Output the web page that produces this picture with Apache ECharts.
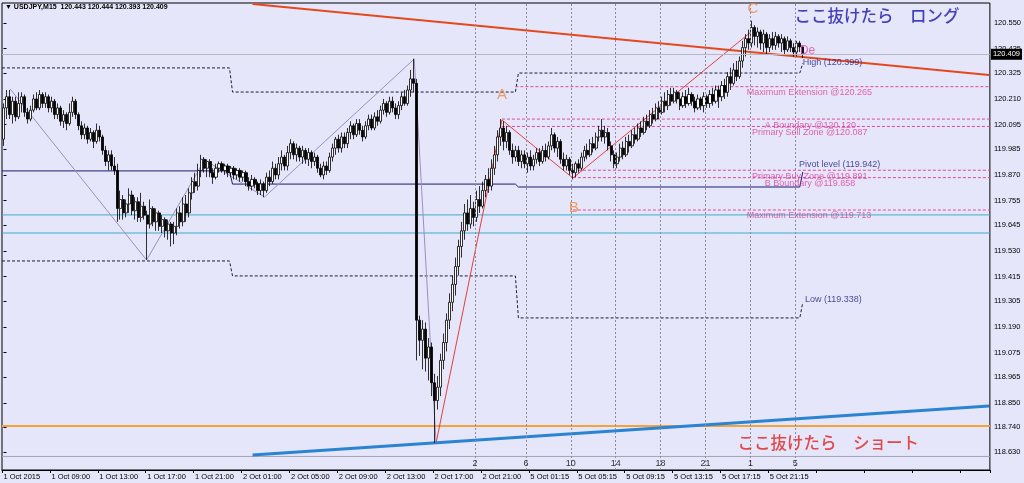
<!DOCTYPE html>
<html><head><meta charset="utf-8">
<script src="https://cdn.jsdelivr.net/npm/echarts@6/dist/echarts.min.js"></script>
<style>html,body{margin:0;padding:0;background:#E6E6FA;}#c{width:1024px;height:483px;}</style>
</head><body><div id="c"></div>
<script>
// ---- data ----
const xTickLabels = ['1 Oct 2015','1 Oct 09:00','1 Oct 13:00','1 Oct 17:00','1 Oct 21:00','2 Oct 01:00','2 Oct 05:00','2 Oct 09:00','2 Oct 13:00','2 Oct 17:00','2 Oct 21:00','5 Oct 01:15','5 Oct 05:15','5 Oct 09:15','5 Oct 13:15','5 Oct 17:15','5 Oct 21:15'];
const yTickValues = [120.550,120.435,120.325,120.210,120.095,119.985,119.870,119.755,119.645,119.530,119.415,119.305,119.190,119.075,118.965,118.850,118.740,118.630];
// [open, close, low, high]
const candles = [
[120.03,120.17,120.00,120.19],[120.17,120.22,120.12,120.25],[120.22,120.14,120.12,120.25],[120.14,120.20,120.10,120.22],[120.20,120.13,120.11,120.22],
[120.13,120.19,120.12,120.24],[120.19,120.22,120.15,120.24],[120.22,120.15,120.13,120.23],[120.15,120.12,120.10,120.17],[120.12,120.16,120.11,120.18],
[120.16,120.21,120.15,120.23],[120.21,120.17,120.16,120.24],[120.17,120.23,120.16,120.25],[120.23,120.19,120.17,120.24],[120.19,120.22,120.17,120.24],
[120.22,120.17,120.15,120.23],[120.17,120.20,120.15,120.22],[120.20,120.14,120.12,120.21],[120.14,120.17,120.12,120.19],[120.17,120.11,120.09,120.18],
[120.11,120.14,120.08,120.16],[120.14,120.10,120.07,120.15],[120.10,120.15,120.09,120.19],[120.15,120.20,120.13,120.22],[120.20,120.14,120.12,120.21],
[120.14,120.09,120.07,120.15],[120.09,120.05,120.03,120.11],[120.05,120.08,120.03,120.10],[120.08,120.03,120.01,120.09],[120.03,120.06,120.02,120.08],
[120.06,120.02,119.99,120.07],[120.02,120.07,120.01,120.10],[120.07,120.04,120.02,120.09],[120.04,119.98,119.96,120.05],[119.98,119.93,119.91,120.00],
[119.93,119.96,119.89,119.98],[119.96,119.91,119.89,119.98],[119.91,119.89,119.87,119.95],[119.89,119.72,119.66,119.92],[119.72,119.76,119.67,119.80],
[119.76,119.70,119.67,119.78],[119.70,119.74,119.68,119.76],[119.74,119.78,119.70,119.81],[119.78,119.71,119.69,119.80],[119.71,119.75,119.67,119.77],
[119.75,119.68,119.66,119.77],[119.68,119.73,119.66,119.79],[119.73,119.69,119.67,119.75],[119.69,119.65,119.49,119.71],[119.65,119.72,119.63,119.76],
[119.72,119.66,119.64,119.73],[119.66,119.70,119.62,119.72],[119.70,119.64,119.62,119.71],[119.64,119.67,119.61,119.69],[119.67,119.62,119.59,119.68],
[119.62,119.65,119.58,119.67],[119.65,119.61,119.55,119.66],[119.61,119.64,119.56,119.66],[119.64,119.70,119.60,119.72],[119.70,119.66,119.63,119.73],
[119.66,119.74,119.64,119.77],[119.74,119.70,119.66,119.78],[119.70,119.79,119.68,119.81],[119.79,119.84,119.76,119.86],[119.84,119.82,119.79,119.88],
[119.82,119.89,119.80,119.92],[119.89,119.94,119.86,119.96],[119.94,119.90,119.88,119.95],[119.90,119.93,119.86,119.94],[119.93,119.88,119.86,119.94],
[119.88,119.86,119.83,119.90],[119.86,119.90,119.85,119.92],[119.90,119.92,119.88,119.93],[119.92,119.89,119.88,119.93],[119.89,119.91,119.87,119.92],
[119.91,119.88,119.86,119.92],[119.88,119.90,119.86,119.91],[119.90,119.87,119.85,119.91],[119.87,119.89,119.85,119.90],[119.89,119.86,119.84,119.90],
[119.86,119.88,119.84,119.89],[119.88,119.84,119.82,119.89],[119.84,119.82,119.80,119.86],[119.82,119.85,119.80,119.87],[119.85,119.83,119.81,119.86],
[119.83,119.80,119.78,119.84],[119.80,119.83,119.78,119.85],[119.83,119.80,119.77,119.84],[119.80,119.86,119.79,119.88],[119.86,119.84,119.82,119.89],
[119.84,119.90,119.83,119.93],[119.90,119.87,119.85,119.92],[119.87,119.92,119.85,119.95],[119.92,119.95,119.89,119.98],[119.95,119.91,119.89,119.96],
[119.91,119.97,119.89,120.00],[119.97,120.01,119.94,120.03],[120.01,119.96,119.94,120.02],[119.96,119.99,119.93,120.01],[119.99,119.95,119.93,120.00],
[119.95,119.98,119.92,120.00],[119.98,119.94,119.92,119.99],[119.94,119.97,119.91,119.99],[119.97,119.93,119.90,119.98],[119.93,119.95,119.91,119.97],
[119.95,119.90,119.88,119.96],[119.90,119.87,119.86,119.92],[119.87,119.91,119.85,119.93],[119.91,119.89,119.87,119.93],[119.89,119.95,119.88,119.97],
[119.95,119.99,119.93,120.01],[119.99,120.03,119.96,120.04],[120.03,119.99,119.97,120.05],[119.99,120.04,119.97,120.06],[120.04,120.01,119.99,120.06],
[120.01,120.06,119.99,120.08],[120.06,120.09,120.03,120.11],[120.09,120.05,120.03,120.10],[120.05,120.10,120.04,120.12],[120.10,120.07,120.05,120.12],
[120.07,120.04,120.02,120.09],[120.04,120.09,120.03,120.11],[120.09,120.12,120.07,120.14],[120.12,120.08,120.07,120.14],[120.08,120.13,120.07,120.15],
[120.13,120.11,120.09,120.16],[120.11,120.16,120.10,120.18],[120.16,120.19,120.14,120.21],[120.19,120.15,120.13,120.20],[120.15,120.20,120.14,120.22],
[120.20,120.17,120.15,120.22],[120.17,120.14,120.12,120.19],[120.14,120.18,120.12,120.20],[120.18,120.22,120.16,120.24],[120.22,120.19,120.18,120.25],
[120.19,120.25,120.18,120.27],[120.25,120.30,120.22,120.34],[120.30,120.28,120.24,120.39],[120.28,119.22,119.04,120.30],[119.22,119.13,119.06,119.24],
[119.13,119.18,119.00,119.22],[119.18,119.05,118.99,119.21],[119.05,119.10,118.95,119.14],[119.10,118.94,118.88,119.12],[118.94,118.86,118.67,118.98],
[118.86,118.92,118.82,118.97],[118.92,119.04,118.88,119.07],[119.04,119.12,119.00,119.16],[119.12,119.22,119.08,119.25],[119.22,119.30,119.18,119.34],
[119.30,119.38,119.26,119.42],[119.38,119.46,119.33,119.50],[119.46,119.55,119.42,119.58],[119.55,119.62,119.50,119.66],[119.62,119.70,119.58,119.74],
[119.70,119.65,119.62,119.76],[119.65,119.72,119.63,119.78],[119.72,119.68,119.64,119.75],[119.68,119.76,119.66,119.80],[119.76,119.73,119.70,119.82],
[119.73,119.80,119.72,119.84],[119.80,119.85,119.77,119.87],[119.85,119.82,119.79,119.90],[119.82,119.90,119.80,119.94],[119.90,119.96,119.87,120.00],
[119.96,120.04,119.93,120.07],[120.04,120.08,120.00,120.12],[120.08,120.02,119.98,120.11],[120.02,120.06,119.99,120.09],[120.06,119.98,119.96,120.07],
[119.98,119.95,119.92,120.01],[119.95,119.98,119.93,120.00],[119.98,119.93,119.91,120.00],[119.93,119.96,119.90,119.98],[119.96,119.92,119.90,119.98],
[119.92,119.95,119.88,119.97],[119.95,119.91,119.89,119.98],[119.91,119.94,119.89,119.96],[119.94,119.97,119.92,119.99],[119.97,119.93,119.91,119.99],
[119.93,119.98,119.92,120.00],[119.98,119.95,119.93,120.01],[119.95,120.00,119.94,120.02],[120.00,120.05,119.98,120.08],[120.05,119.99,119.97,120.06],
[119.99,120.02,119.95,120.04],[120.02,119.94,119.92,120.03],[119.94,119.91,119.89,119.97],[119.91,119.94,119.89,119.96],[119.94,119.89,119.87,119.95],
[119.89,119.88,119.85,119.92],[119.88,119.92,119.86,119.93],[119.92,119.90,119.88,119.94],[119.90,119.95,119.89,119.97],[119.95,119.98,119.93,120.00],
[119.98,119.96,119.94,120.01],[119.96,120.01,119.95,120.03],[120.01,119.99,119.97,120.04],[119.99,120.04,119.98,120.06],[120.04,120.07,120.02,120.09],
[120.07,120.04,120.02,120.12],[120.04,120.06,120.01,120.09],[120.06,120.00,119.98,120.08],[120.00,119.96,119.93,120.02],[119.96,119.92,119.90,119.98],
[119.92,119.95,119.90,119.97],[119.95,119.99,119.93,120.01],[119.99,119.96,119.94,120.02],[119.96,120.02,119.95,120.04],[120.02,120.00,119.97,120.05],
[120.00,120.05,119.99,120.07],[120.05,120.03,120.01,120.08],[120.03,120.08,120.02,120.10],[120.08,120.06,120.04,120.11],[120.06,120.11,120.05,120.13],
[120.11,120.09,120.07,120.14],[120.09,120.14,120.08,120.16],[120.14,120.12,120.10,120.17],[120.12,120.17,120.11,120.19],[120.17,120.15,120.12,120.20],
[120.15,120.20,120.14,120.22],[120.20,120.18,120.15,120.24],[120.18,120.23,120.16,120.25],[120.23,120.20,120.18,120.26],[120.20,120.24,120.19,120.26],
[120.24,120.21,120.19,120.25],[120.21,120.18,120.16,120.24],[120.18,120.22,120.17,120.24],[120.22,120.19,120.17,120.25],[120.19,120.23,120.18,120.26],
[120.23,120.20,120.18,120.24],[120.20,120.17,120.15,120.22],[120.17,120.21,120.16,120.23],[120.21,120.18,120.16,120.22],[120.18,120.22,120.15,120.24],
[120.22,120.19,120.17,120.23],[120.19,120.23,120.17,120.25],[120.23,120.20,120.18,120.26],[120.20,120.25,120.19,120.27],[120.25,120.22,120.17,120.27],
[120.22,120.27,120.20,120.29],[120.27,120.24,120.21,120.30],[120.24,120.31,120.22,120.33],[120.31,120.28,120.25,120.35],[120.28,120.34,120.27,120.37],
[120.34,120.31,120.29,120.38],[120.31,120.38,120.30,120.40],[120.38,120.44,120.35,120.47],[120.44,120.48,120.40,120.50],[120.48,120.46,120.43,120.52],
[120.46,120.53,120.44,120.56],[120.53,120.49,120.45,120.54],[120.49,120.51,120.44,120.53],[120.51,120.46,120.43,120.52],[120.46,120.50,120.42,120.52],
[120.50,120.44,120.41,120.51],[120.44,120.48,120.42,120.50],[120.48,120.45,120.43,120.51],[120.45,120.49,120.43,120.51],[120.49,120.46,120.44,120.50],
[120.46,120.48,120.42,120.50],[120.48,120.43,120.41,120.49],[120.43,120.47,120.42,120.49],[120.47,120.44,120.42,120.48],[120.44,120.42,120.40,120.46],
[120.42,120.46,120.40,120.47],[120.46,120.443,120.42,120.47],[120.443,120.409,120.393,120.444]
];
const bidPrice = 120.409;
const zigzagPts = [[2.2,120.255],[47.8,119.489],[67.2,119.937],[87.2,119.771],[137.2,120.389],[144.5,118.670]];
const patternPts = [[144.5,118.670],[166.5,120.116],[190.2,119.856],[250.5,120.519]];
const redTrend = [[83.2,120.635],[329.2,120.317]];
const blueTrend = [[83.2,118.617],[329.2,118.836]];
const orangeLevel = 118.746;
const tealLevels = [119.691,119.610];
const pivotPts = [[-0.5,119.888],[75.5,119.888],[76.5,119.829],[171,119.829],[172,119.816],[266,119.816],[267,119.883]];
const dayHighPts = [[-0.5,120.349],[75.5,120.349],[76.5,120.241],[171,120.241],[172,120.326],[266,120.326],[267,120.370]];
const dayLowPts = [[-0.5,119.485],[75.5,119.485],[76.5,119.418],[171,119.418],[172,119.230],[266,119.230],[267,119.300]];
const harmonicLevels = [120.265,120.120,120.087,119.891,119.858,119.713];
const harmonicNames = ['Maximum Extension','A Boundary','Primary Sell Zone','Primary Buy Zone','B Boundary','Maximum Extension'];
const harmonicStart = [171,166.5,166.5,190.2,190.2,190.2];
const harmonicLabelX = [248.3,254.3,250,250,254.3,248.3];
const infoLabels = [['Pivot level (119.942)',265.7,119.942],['High (120.399)',267,120.399],['Low (119.338)',267.7,119.338]];
const pointLabels = [['A',166.5,120.228],['B',190.5,119.722],['C',250.3,120.613]];
const dLabel = [['De',268.6,120.425]];
const timeMarks = [157.5,174.5,189.5,204.5,219.5,234.5,249.5,264.5];
const timeMarkLabels = ['2','6','10','14','18','21','1','5'];
const noteLong = [['ここ抜けたら　ロング',291.8,120.581]];
const noteShort = [['ここ抜けたら　ショート',275.5,118.670]];

// ---- layout ----
const N = 330;
const Y_MAX = 120.6395, Y_MIN = 118.5494;
const STRIP_TOP = 118.610;
const cats = Array.from({length:N},(_,i)=>String(i));
const FONT = 'Liberation Sans';

function lineSeries(data, color, width, type){
  return {type:'line',xAxisIndex:1,yAxisIndex:0,data:data,symbol:'none',silent:true,
    lineStyle:{color:color,width:width,type:type||'solid'},z:3,animation:false};
}
function textSeries(data, color, size, opts){
  opts = opts||{};
  return {type:'scatter',xAxisIndex:1,yAxisIndex:0,data:data.map(d=>[d[1],d[2],d[0]]),symbolSize:1,
    itemStyle:{color:'rgba(0,0,0,0)'},silent:true,z:6,
    label:{show:true,position:'inside',formatter:p=>p.data[2],color:color,fontSize:size,fontWeight:opts.weight||'normal',
      fontFamily:opts.font||FONT,align:opts.align||'center',verticalAlign:'middle',offset:opts.offset||[0,0]}};
}

const series = [];
series.push({type:'candlestick',xAxisIndex:0,yAxisIndex:0,data:candles,barWidth:2.6,z:4,
  itemStyle:{color:'#FFFFFF',color0:'#000000',borderColor:'#000000',borderColor0:'#000000',borderWidth:0.8},
  markLine:{symbol:'none',silent:true,animation:false,data:[{yAxis:bidPrice}],
    lineStyle:{color:'#B8B8C0',width:1,type:'solid'},
    label:{show:true,position:'end',distance:1,formatter:()=>bidPrice.toFixed(3),color:'#fff',backgroundColor:'#000',
      padding:[2,2,1,2],fontSize:7.5,fontFamily:FONT}}});
// vertical time marks
series.push({type:'line',xAxisIndex:1,yAxisIndex:0,data:[],z:2,
  markLine:{symbol:'none',silent:true,animation:false,data:timeMarks.map(t=>({xAxis:t})),
    lineStyle:{color:'#8C8C9A',width:1,type:[2,2]},label:{show:false}}});
series.push(textSeries(timeMarks.map((t,k)=>[timeMarkLabels[k],t,Y_MIN]),'#000',9,{offset:[0,-6]}));
series.push(lineSeries([[-0.5,STRIP_TOP],[N-0.5,STRIP_TOP]],'#A4A4B4',1));
// levels
series.push(lineSeries([[-0.5,orangeLevel],[N-0.5,orangeLevel]],'#F2A33A',2));
tealLevels.forEach(v=>series.push(lineSeries([[-0.5,v],[N-0.5,v]],'#3AAFC8',1)));
series.push(lineSeries(pivotPts,'#1C1C6E',1));
series.push(lineSeries(dayHighPts,'#1A1A3A',1,[3,2]));
series.push(lineSeries(dayLowPts,'#1A1A3A',1,[3,2]));
harmonicLevels.forEach((v,k)=>series.push(lineSeries([[harmonicStart[k],v],[N-0.5,v]],'#E0489C',1,[3,2])));
series.push(lineSeries(zigzagPts,'#9A90BC',1));
series.push(lineSeries(patternPts,'#E2403C',1));
series.push(lineSeries(redTrend,'#E4491E',2));
series.push(lineSeries(blueTrend,'#2A84D2',3));
// texts
series.push(textSeries(harmonicLevels.map((v,k)=>[harmonicNames[k]+' @'+v.toFixed(3),harmonicLabelX[k],v]),'#DC3C98',9,{align:'left',offset:[0,6]}));
series.push(textSeries(infoLabels,'#1C1C80',9,{align:'left',offset:[0,6]}));
series.push(textSeries(pointLabels,'#F08A3E',15));
series.push(textSeries(dLabel,'#E0489C',12));
series.push(textSeries(noteLong,'#1616A8',16.5,{font:'Noto Sans CJK JP',weight:500}));
series.push(textSeries(noteShort,'#E0201C',16.5,{font:'Noto Sans CJK JP',weight:500}));

const option = {
  animation:false,
  backgroundColor:'#E6E6FA',
  grid:{left:2,right:33,top:3,bottom:13,show:true,borderColor:'#000',borderWidth:1,backgroundColor:'#E6E6FA'},
  xAxis:[
    {type:'category',data:cats,boundaryGap:true,
      axisLine:{show:true,lineStyle:{color:'#000'}},
      axisTick:{show:true,interval:15,length:3,lineStyle:{color:'#000'}},
      axisLabel:{interval:15,align:'left',margin:3,fontSize:7.5,color:'#000',fontFamily:FONT,showMaxLabel:false,
        formatter:(v,idx)=>xTickLabels[idx/16]||''},
      splitLine:{show:false}},
    {type:'value',min:-0.5,max:N-0.5,show:false}
  ],
  yAxis:{type:'value',position:'right',min:Y_MIN,max:Y_MAX,splitLine:{show:false},
    axisLine:{show:false},
    axisTick:{show:true,length:3,customValues:yTickValues,lineStyle:{color:'#000'}},
    axisLabel:{customValues:yTickValues,formatter:v=>v.toFixed(3),fontSize:7.5,margin:4,color:'#000',fontFamily:FONT}},
  graphic:[{type:'text',left:5,top:4,z:10,style:{text:'▼ USDJPY,M15  120.443 120.444 120.393 120.409',
    fill:'#000',font:'bold 7px "Liberation Sans"'}}],
  series:series
};
const chart = echarts.init(document.getElementById('c'),null,{renderer:'canvas'});
chart.setOption(option);
</script></body></html>
